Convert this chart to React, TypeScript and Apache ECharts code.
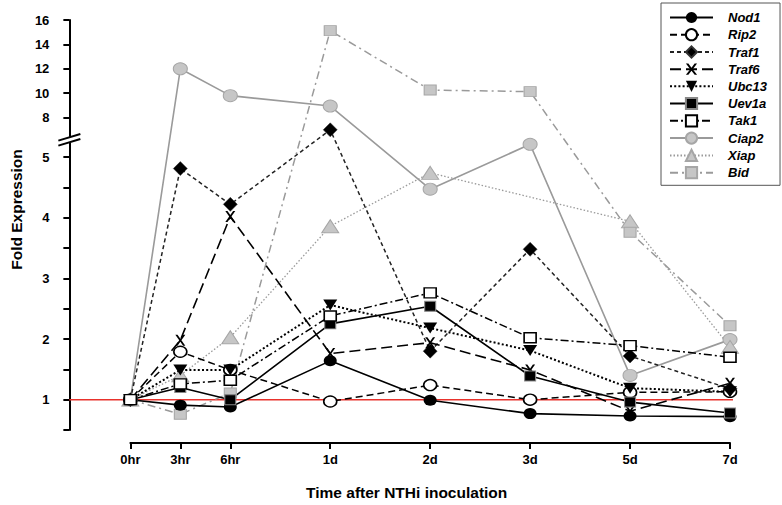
import React, { useEffect, useRef } from "react";
import * as echarts from "echarts";

// ---- data ----
const timeLabels = ["0hr", "3hr", "6hr", "1d", "2d", "3d", "5d", "7d"];
const timePos = [0, 0.5, 1, 2, 3, 4, 5, 6];

const nod1 = [1, 0.91, 0.88, 1.64, 0.99, 0.77, 0.73, 0.72];
const rip2 = [1, 1.79, 1.49, 0.97, 1.24, 1.0, 1.12, 1.13];
const traf1 = [1, 4.81, 4.22, 7.0, 1.8, 3.48, 1.72, 1.18];
const traf6 = [1, 1.98, 4.02, 1.76, 1.94, 1.49, 0.81, 1.27];
const ubc13 = [1, 1.49, 1.49, 2.56, 2.18, 1.81, 1.19, 1.13];
const uev1a = [1, 1.2, 1.0, 2.25, 2.54, 1.39, 0.96, 0.78];
const tak1 = [1, 1.26, 1.32, 2.38, 2.76, 2.02, 1.89, 1.7];
const ciap2 = [1, 12, 9.8, 8.95, 4.47, 5.21, 1.4, 1.99];
const xiap = [1, 1.4, 2.03, 3.86, 4.74, null, 3.94, 1.87];
const bid = [1, 0.76, 1.11, 15.13, 10.26, 10.13, 3.76, 2.22];

const lowerTickLabels = [1, 2, 3, 4, 5];
const lowerMinorTicks = [0.5, 1.5, 2.5, 3.5, 4.5];
const upperTickLabels = [8, 10, 12, 14, 16];
const baselineValue = 1;

const legendOrder = ["Nod1", "Rip2", "Traf1", "Traf6", "Ubc13", "Uev1a", "Tak1", "Ciap2", "Xiap", "Bid"];

// ---- broken axis transform ----
const BREAK = 5.3;
const UPPER_BASE = 5.65;
const UPPER_SLOPE = 0.2012;
const tf = (v: number) => (v <= BREAK ? v : UPPER_BASE + (v - 8) * UPPER_SLOPE);
const inv = (t: number) => (t <= BREAK + 1e-6 ? t : 8 + (t - UPPER_BASE) / UPPER_SLOPE);

const FONT = "'Liberation Sans', Arial, Helvetica, sans-serif";
const GRAY_LINE = "#9a9a9a";
const GRAY_FILL = "#c6c6c6";
const GRAY_BORDER = "#a6a6a6";
const X_PATH = "path://M0,0L2.2,0L5,3.7L7.8,0L10,0L6.1,5L10,10L7.8,10L5,6.3L2.2,10L0,10L3.9,5Z";
const DOWN_TRI = "path://M0,0L10,0L5,9Z";

const Y_OFFSET = 61;

function pts(vals: (number | null)[]) {
  const out: number[][] = [];
  vals.forEach((v, i) => {
    if (v != null) out.push([timePos[i], tf(v)]);
  });
  return out;
}

export default function App() {
  const ref = useRef<HTMLDivElement>(null);

  useEffect(() => {
    document.body.style.margin = "0";
    if (!ref.current) return;
    const chart = echarts.init(ref.current, undefined, { renderer: "svg" });

    const mk = (
      name: string,
      vals: (number | null)[],
      line: any,
      symbol: string,
      symbolSize: any,
      item: any
    ) => ({
      name,
      type: "line",
      data: pts(vals),
      symbol,
      symbolSize,
      lineStyle: line,
      itemStyle: item,
      emphasis: { disabled: true },
      z: 3,
    });

    const series = [
      mk("Ciap2", ciap2, { color: GRAY_LINE, width: 1.6, type: "solid" }, "circle", [14, 12], {
        color: GRAY_FILL, borderColor: GRAY_BORDER, borderWidth: 1,
      }),
      mk("Xiap", xiap, { color: GRAY_LINE, width: 1.3, type: [1.5, 2] }, "triangle", [17, 13], {
        color: GRAY_FILL, borderColor: GRAY_BORDER, borderWidth: 1,
      }),
      mk("Bid", bid, { color: GRAY_LINE, width: 1.5, type: [8, 4, 2, 4] }, "rect", [12, 10], {
        color: GRAY_FILL, borderColor: GRAY_BORDER, borderWidth: 1,
      }),
      mk("Nod1", nod1, { color: "#000", width: 1.6, type: "solid" }, "circle", [13, 11], {
        color: "#000", borderColor: "#000", borderWidth: 0,
      }),
      mk("Rip2", rip2, { color: "#000", width: 1.5, type: [7, 4] }, "circle", [13, 11], {
        color: "#fff", borderColor: "#000", borderWidth: 1.5,
      }),
      mk("Traf1", traf1, { color: "#222", width: 1.5, type: [4, 3] }, "diamond", [14, 14], {
        color: "#000", borderColor: "#333", borderWidth: 0.5,
      }),
      mk("Traf6", traf6, { color: "#000", width: 1.6, type: [11, 5] }, X_PATH, [10, 11], {
        color: "#000", borderWidth: 0,
      }),
      mk("Ubc13", ubc13, { color: "#000", width: 2, type: [2, 2.2] }, DOWN_TRI, [14, 11], {
        color: "#000", borderWidth: 0,
      }),
      mk("Uev1a", uev1a, { color: "#000", width: 1.6, type: "solid" }, "rect", [11, 10], {
        color: "#000", borderColor: "#888", borderWidth: 1,
      }),
      mk("Tak1", tak1, { color: "#000", width: 1.5, type: [8, 3, 2, 3] }, "rect", [12, 10], {
        color: "#fff", borderColor: "#000", borderWidth: 1.5,
      }),
    ];

    const yTickVals = [...lowerMinorTicks, ...lowerTickLabels, ...upperTickLabels.map(tf)].sort((a, b) => a - b);
    const yLabelVals = [...lowerTickLabels, ...upperTickLabels.map(tf)];

    chart.setOption({
      animation: false,
      textStyle: { fontFamily: FONT },
      grid: { left: 122, right: 52, top: 20, bottom: 70, containLabel: false },
      xAxis: {
        type: "value",
        min: timePos[0],
        max: timePos[timePos.length - 1],
        offset: 13,
        splitLine: { show: false },
        axisLine: { show: true, onZero: false, lineStyle: { color: "#000", width: 2 } },
        axisTick: { show: true, length: 6, lineStyle: { color: "#000", width: 2 }, customValues: timePos },
        axisLabel: {
          customValues: timePos,
          margin: 10,
          color: "#000",
          fontSize: 13,
          fontWeight: "bold",
          fontFamily: FONT,
          formatter: (v: number) => {
            const i = timePos.indexOf(v);
            return i >= 0 ? timeLabels[i] : "";
          },
        },
        name: "Time after NTHi inoculation",
        nameLocation: "middle",
        nameGap: 49,
        nameTextStyle: {
          color: "#000",
          fontSize: 15.5,
          fontWeight: "bold",
          fontFamily: FONT,
          verticalAlign: "middle",
          padding: [0, 47, 0, 0],
        },
      },
      yAxis: {
        type: "value",
        min: 0.5,
        max: tf(16),
        offset: Y_OFFSET,
        splitLine: { show: false },
        axisLine: { show: true, onZero: false, lineStyle: { color: "#000", width: 2 } },
        axisTick: { show: true, length: 6, lineStyle: { color: "#000", width: 2 }, customValues: yTickVals },
        axisLabel: {
          customValues: yLabelVals,
          margin: 20,
          color: "#000",
          fontSize: 13,
          fontWeight: "bold",
          fontFamily: FONT,
          formatter: (v: number) => String(Math.round(inv(v))),
        },
        name: "Fold Expression",
        nameLocation: "middle",
        nameGap: 51,
        nameTextStyle: {
          color: "#000",
          fontSize: 15.5,
          fontWeight: "bold",
          fontFamily: FONT,
          verticalAlign: "middle",
          padding: [0, 0, 0, 31],
        },
      },
      legend: {
        data: legendOrder,
        orient: "vertical",
        left: 661,
        top: 3,
        padding: [8, 13, 6, 8],
        itemWidth: 43,
        itemHeight: 14,
        itemGap: 4.1,
        borderColor: "#555",
        borderWidth: 1,
        selectedMode: false,
        textStyle: {
          color: "#000",
          fontSize: 13,
          fontWeight: "bold",
          fontStyle: "italic",
          fontFamily: FONT,
          padding: [0, 0, 0, 10],
        },
      },
      series,
    });

    const x0 = chart.convertToPixel({ xAxisIndex: 0 }, timePos[0]) as number;
    const x1 = chart.convertToPixel({ xAxisIndex: 0 }, timePos[timePos.length - 1]) as number;
    const ax = x0 - Y_OFFSET;
    const yBase = chart.convertToPixel({ yAxisIndex: 0 }, baselineValue) as number;
    const by = (chart.convertToPixel({ yAxisIndex: 0 }, BREAK) as number) + 1;

    chart.setOption({
      graphic: [
        {
          type: "line",
          z: 1,
          shape: { x1: ax, y1: yBase, x2: x1 + 3, y2: yBase },
          style: { stroke: "#e8322c", lineWidth: 1.5 },
          silent: true,
        },
        {
          type: "rect",
          z: 100,
          shape: { x: ax - 4, y: by - 3, width: 8, height: 6 },
          style: { fill: "#fff" },
          silent: true,
        },
        {
          type: "line",
          z: 101,
          shape: { x1: ax - 11, y1: by + 0.8, x2: ax + 11, y2: by - 5.8 },
          style: { stroke: "#000", lineWidth: 2 },
          silent: true,
        },
        {
          type: "line",
          z: 101,
          shape: { x1: ax - 11, y1: by + 5.8, x2: ax + 11, y2: by - 0.8 },
          style: { stroke: "#000", lineWidth: 2 },
          silent: true,
        },
      ],
    });

    return () => chart.dispose();
  }, []);

  return <div ref={ref} style={{ width: 782, height: 505 }} />;
}
